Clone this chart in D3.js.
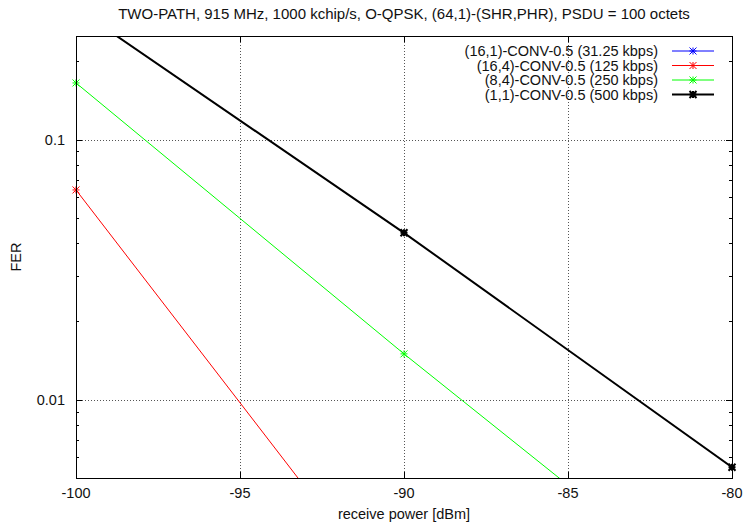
<!DOCTYPE html>
<html>
<head>
<meta charset="utf-8">
<script src="https://cdn.jsdelivr.net/npm/d3@7"></script>
<style>
  body { margin: 0; background: #fff; }
  text { font-family: 'Liberation Sans', Arial, sans-serif; fill: #111; }
</style>
</head>
<body>
<svg id="chart" width="745" height="524"></svg>
<script>
// receive power [dBm] sample points
const power = [-100, -90, -80];

// FER per scheme
const ferBlue = [];                      // (16,1) lies below the plotted range
const ferRed = [0.064, 0.00148];
const ferGreen = [0.165, 0.015, 0.00147];
const ferBlack = [0.32, 0.0438, 0.0055];

const seriesNames = [
  '(16,1)-CONV-0.5 (31.25 kbps)',
  '(16,4)-CONV-0.5 (125 kbps)',
  '(8,4)-CONV-0.5 (250 kbps)',
  '(1,1)-CONV-0.5 (500 kbps)'
];
const seriesColors = ['#0000ff', '#ff0000', '#00ff00', '#000000'];
const seriesWidths = [1, 1, 1, 2];
const seriesValues = [ferBlue, ferRed, ferGreen, ferBlack];

const xTicks = [-100, -95, -90, -85, -80];
const yTicks = [0.1, 0.01];

const margin = { top: 36, right: 13, bottom: 46, left: 76 },
  width = 745,
  height = 524;

const svg = d3.select('#chart');

const x = d3
  .scaleLinear()
  .domain([-100, -80])
  .range([margin.left, width - margin.right]);

const y = d3
  .scaleLog()
  .domain([0.005, 0.25])
  .range([height - margin.bottom, margin.top]);

const x0 = margin.left,
  x1 = width - margin.right,
  y0 = height - margin.bottom,
  y1 = margin.top;

// grid
const grid = svg.append('g').attr('stroke', '#555').attr('stroke-dasharray', '1,2');
grid
  .selectAll('.gx')
  .data(xTicks.slice(1, -1))
  .join('line')
  .attr('x1', d => x(d) + 0.5)
  .attr('x2', d => x(d) + 0.5)
  .attr('y1', y0)
  .attr('y2', y1);
grid
  .selectAll('.gy')
  .data(yTicks)
  .join('line')
  .attr('x1', x0)
  .attr('x2', x1)
  .attr('y1', d => Math.round(y(d)) + 0.5)
  .attr('y2', d => Math.round(y(d)) + 0.5);

// ticks
const minorY = [];
[0.001, 0.01, 0.1].forEach(dec => {
  for (let k = 2; k <= 9; k++) {
    const v = dec * k;
    if (v > 0.005 - 1e-9 && v < 0.25) minorY.push(v);
  }
});

const ticks = svg.append('g').attr('stroke', '#000').attr('stroke-width', 1);
xTicks.forEach(t => {
  const px = Math.round(x(t)) + 0.5;
  ticks.append('line').attr('x1', px).attr('x2', px).attr('y1', y0).attr('y2', y0 - 6);
  ticks.append('line').attr('x1', px).attr('x2', px).attr('y1', y1).attr('y2', y1 + 6);
});
yTicks.forEach(t => {
  const py = Math.round(y(t)) + 0.5;
  ticks.append('line').attr('x1', x0).attr('x2', x0 + 6).attr('y1', py).attr('y2', py);
  ticks.append('line').attr('x1', x1).attr('x2', x1 - 6).attr('y1', py).attr('y2', py);
});
minorY.forEach(t => {
  const py = Math.round(y(t)) + 0.5;
  ticks.append('line').attr('x1', x0).attr('x2', x0 + 3).attr('y1', py).attr('y2', py);
  ticks.append('line').attr('x1', x1).attr('x2', x1 - 3).attr('y1', py).attr('y2', py);
});

// tick labels
svg
  .append('g')
  .selectAll('text')
  .data(xTicks)
  .join('text')
  .attr('x', d => x(d))
  .attr('y', y0 + 20)
  .attr('text-anchor', 'middle')
  .attr('font-size', '14.5px')
  .text(d => d);

svg
  .append('g')
  .selectAll('text')
  .data(yTicks)
  .join('text')
  .attr('x', x0 - 11)
  .attr('y', d => y(d))
  .attr('dy', '0.36em')
  .attr('text-anchor', 'end')
  .attr('font-size', '14.5px')
  .text(d => d);

// series
svg
  .append('clipPath')
  .attr('id', 'plotclip')
  .append('rect')
  .attr('x', x0)
  .attr('y', y1)
  .attr('width', x1 - x0)
  .attr('height', y0 - y1);

const line = d3
  .line()
  .x(d => x(d[0]))
  .y(d => y(d[1]));

function star(g, cx, cy, color, w) {
  const r = 3.5;
  const path = `M${cx - r},${cy}L${cx + r},${cy}M${cx},${cy - r}L${cx},${cy + r}` +
    `M${cx - r},${cy - r}L${cx + r},${cy + r}M${cx - r},${cy + r}L${cx + r},${cy - r}`;
  g.append('path').attr('d', path).attr('stroke', color).attr('stroke-width', w).attr('fill', 'none');
}

const plot = svg.append('g').attr('clip-path', 'url(#plotclip)');
const markers = svg.append('g');
seriesValues.forEach((vals, i) => {
  const pts = vals.map((v, j) => [power[j], v]);
  if (pts.length < 1) return;
  plot
    .append('path')
    .datum(pts)
    .attr('fill', 'none')
    .attr('stroke', seriesColors[i])
    .attr('stroke-width', seriesWidths[i])
    .attr('d', line);
  pts
    .filter(p => p[1] >= 0.005 - 1e-9 && p[1] <= 0.25)
    .forEach(p => star(markers, x(p[0]), y(p[1]), seriesColors[i], seriesWidths[i]));
});

// border
svg
  .append('rect')
  .attr('x', x0 + 0.5)
  .attr('y', y1 + 0.5)
  .attr('width', x1 - x0)
  .attr('height', y0 - y1)
  .attr('fill', 'none')
  .attr('stroke', '#000');

// legend
const legend = svg.append('g');
seriesNames.forEach((name, i) => {
  const ly = 51 + i * 14.5;
  legend
    .append('text')
    .attr('x', 658)
    .attr('y', ly)
    .attr('dy', '0.36em')
    .attr('text-anchor', 'end')
    .attr('font-size', '14.5px')
    .text(name);
  legend
    .append('line')
    .attr('x1', 672)
    .attr('x2', 714)
    .attr('y1', ly)
    .attr('y2', ly)
    .attr('stroke', seriesColors[i])
    .attr('stroke-width', seriesWidths[i]);
  star(legend, 693, ly, seriesColors[i], seriesWidths[i]);
});

// labels
svg
  .append('text')
  .attr('x', (x0 + x1) / 2)
  .attr('y', 19)
  .attr('text-anchor', 'middle')
  .attr('font-size', '15px')
  .text('TWO-PATH, 915 MHz, 1000 kchip/s, O-QPSK, (64,1)-(SHR,PHR), PSDU = 100 octets');

svg
  .append('text')
  .attr('x', (x0 + x1) / 2)
  .attr('y', 519)
  .attr('text-anchor', 'middle')
  .attr('font-size', '14.5px')
  .text('receive power [dBm]');

svg
  .append('text')
  .attr('transform', `translate(21,${(y0 + y1) / 2}) rotate(-90)`)
  .attr('text-anchor', 'middle')
  .attr('font-size', '14.5px')
  .text('FER');
</script>
</body>
</html>
